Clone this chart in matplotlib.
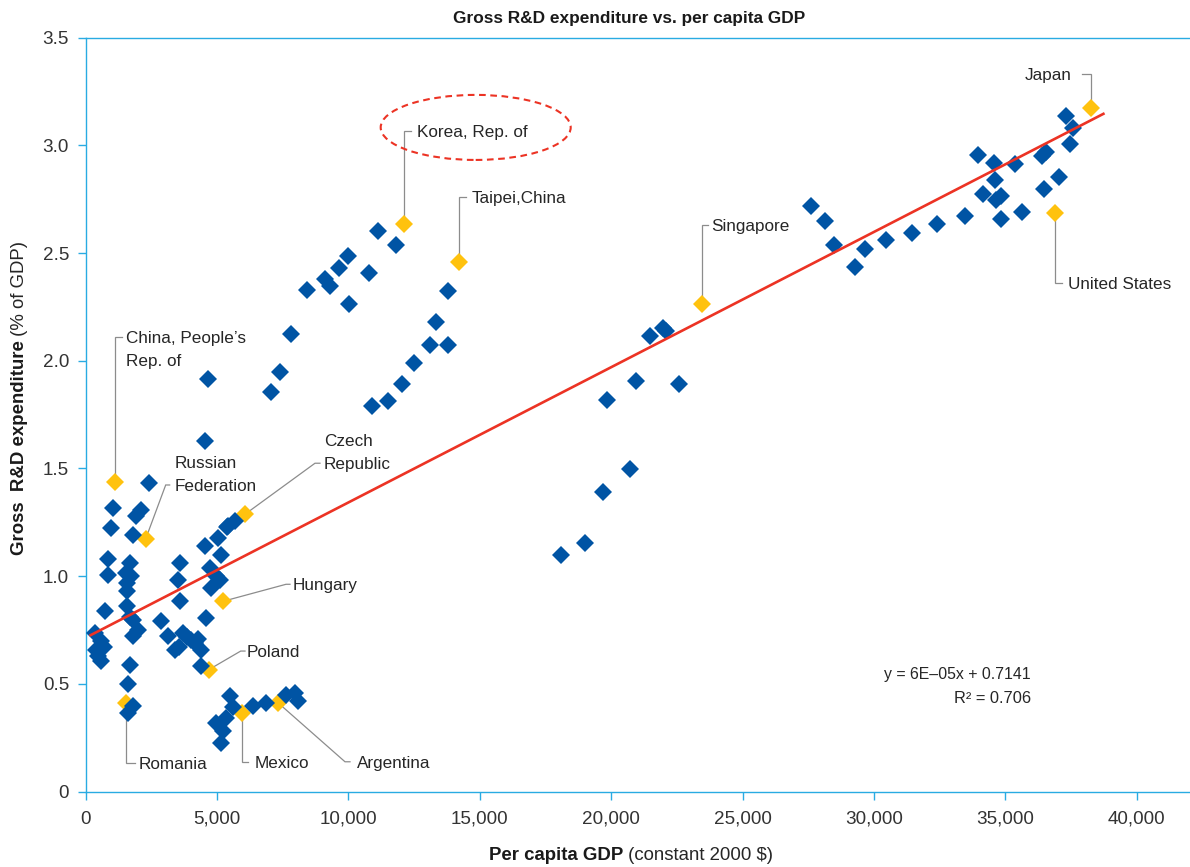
import matplotlib
matplotlib.use("Agg")
import matplotlib.pyplot as plt
from matplotlib.patches import Ellipse
from matplotlib.ticker import FixedLocator, FuncFormatter

# ---------------------------------------------------------------------------
# Data: per capita GDP (constant 2000 $) and gross R&D expenditure (% of GDP)
# ---------------------------------------------------------------------------
gdp_other = [
    342, 597, 407, 597, 700, 480, 723, 850, 850, 1040, 977, 2410, 2120, 1930,
    1800, 1674, 1548, 1560, 1560, 1560, 1720, 1800, 1990, 1800, 1680, 1674,
    1610, 1800, 1610,
    2880, 3133, 3387, 3550, 3703, 3850, 4000, 4150, 4274, 4400, 4400, 3577,
    3513, 3577, 4566, 4528, 5035, 5163, 4718, 4970, 5100, 4780, 5415, 5670,
    5360, 4528, 4640,
    5480, 4970, 5226, 5163, 5350, 5615, 6366, 6876, 7633, 7953, 8080,
    11123, 11820, 9981, 9640, 10780, 9094, 9285, 8420, 10020, 7826, 7382, 7040,
    13790, 13345, 13090, 13790, 12490, 12050, 11500, 10890,
    21970, 22100, 21460, 20955, 22565, 19840, 20725, 19685, 19014, 18100,
    27614, 28120, 28463, 29262, 29642, 30441, 31456, 32394, 33448, 33955,
    34563, 35350, 34600, 34144, 34840, 34650, 34840, 35640, 36400, 36550,
    37443, 37036, 36454, 37317, 37570,
]
rd_other = [
    0.738, 0.698, 0.659, 0.605, 0.670, 0.630, 0.837, 1.080, 1.007, 1.317,
    1.224, 1.433, 1.309, 1.278, 1.193, 1.062, 1.015, 0.969, 0.930, 0.860,
    1.000, 0.798, 0.752, 0.721, 0.810, 0.585, 0.497, 0.396, 0.365,
    0.790, 0.721, 0.659, 0.670, 0.737, 0.715, 0.705, 0.690, 0.706, 0.659,
    0.582, 1.062, 0.984, 0.883, 0.806, 1.139, 1.178, 1.100, 1.038, 1.000,
    0.984, 0.945, 1.232, 1.255, 1.230, 1.627, 1.913,
    0.442, 0.319, 0.280, 0.226, 0.342, 0.394, 0.396, 0.412, 0.450, 0.458,
    0.419,
    2.601, 2.539, 2.485, 2.430, 2.405, 2.377, 2.346, 2.330, 2.263, 2.126,
    1.948, 1.854,
    2.323, 2.179, 2.071, 2.071, 1.990, 1.890, 1.812, 1.789,
    2.153, 2.137, 2.114, 1.908, 1.894, 1.817, 1.498, 1.391, 1.155, 1.097,
    2.720, 2.648, 2.539, 2.434, 2.519, 2.560, 2.594, 2.635, 2.674, 2.953,
    2.916, 2.911, 2.838, 2.776, 2.764, 2.748, 2.658, 2.690, 2.950, 2.970,
    3.004, 2.852, 2.795, 3.135, 3.080,
]

highlight_names = [
    "Japan", "United States", "Korea", "Taipei", "Singapore", "China",
    "Russia", "Czech", "Hungary", "Poland", "Romania", "Mexico", "Argentina",
]
gdp_highlight = [38250, 36885, 12110, 14216, 23440, 1115, 2283, 6050, 5226,
                 4690, 1548, 5958, 7318]
rd_highlight = [3.172, 2.687, 2.635, 2.457, 2.263, 1.438, 1.173, 1.286, 0.883,
                0.566, 0.412, 0.365, 0.412]

# Linear trend line
trend_slope = 6.28e-5
trend_intercept = 0.7141
trend_r2 = 0.706

x_ticks = [0, 5000, 10000, 15000, 20000, 25000, 30000, 35000, 40000]
y_ticks = [0, 0.5, 1.0, 1.5, 2.0, 2.5, 3.0, 3.5]

# ---------------------------------------------------------------------------
# Styling
# ---------------------------------------------------------------------------
BLUE = "#0054a4"
YELLOW = "#ffc20e"
RED = "#ec3324"
AXIS = "#29abe2"
LEADER = "#8c8c8c"
TEXT = "#262626"
FONT = ["Liberation Sans", "DejaVu Sans"]
plt.rcParams["font.family"] = FONT

W, H = 1190, 867
fig = plt.figure(figsize=(W / 100, H / 100), dpi=100)
ax = fig.add_axes([85.7 / W, 75.5 / H, 42000 * 0.02628 / W, 3.5 * 215.4 / H])
ax.set_xlim(0, 42000)
ax.set_ylim(0, 3.5)

for side in ("left", "top", "bottom"):
    ax.spines[side].set_color(AXIS)
    ax.spines[side].set_linewidth(1.0)
ax.spines["right"].set_visible(False)

ax.xaxis.set_major_locator(FixedLocator(x_ticks))
ax.yaxis.set_major_locator(FixedLocator(y_ticks))
ax.xaxis.set_major_formatter(FuncFormatter(lambda v, p: f"{int(v):,}"))
ax.yaxis.set_major_formatter(
    FuncFormatter(lambda v, p: "0" if v == 0 else f"{v:.1f}"))
ax.tick_params(axis="both", direction="out", length=6, width=1.0,
               color=AXIS, labelcolor="#333333", labelsize=13.6, pad=6)
ax.tick_params(axis="x", pad=8)

# Callouts: text lines, text anchor, alignment, leader y, elbow x, hook x
LINE_STEP = 0.108
callouts = {
    "Japan": (["Japan"], 37530, 3.331, "right", 3.331, None, 37910),
    "United States": (["United States"], 37380, 2.362, "left", 2.362, None, 37140),
    "Korea": (["Korea, Rep. of"], 12606, 3.066, "left", 3.066, None, 12380),
    "Taipei": (["Taipei,China"], 14688, 2.761, "left", 2.761, None, 14471),
    "Singapore": (["Singapore"], 23794, 2.630, "left", 2.630, None, 23680),
    "China": (["China, People\u2019s", "Rep. of"], 1533, 2.110, "left", 2.110, None, 1381),
    "Russia": (["Russian", "Federation"], 3398, 1.531, "left", 1.423, 3044, 3195),
    "Czech": (["Czech", "Republic"], 9068, 1.632, "left", 1.524, 8725, 8915),
    "Hungary": (["Hungary"], 7889, 0.962, "left", 0.962, 7622, 7774),
    "Poland": (["Poland"], 6126, 0.652, "left", 0.652, 5898, 6062),
    "Romania": (["Romania"], 2002, 0.134, "left", 0.134, None, 1876),
    "Mexico": (["Mexico"], 6442, 0.138, "left", 0.138, None, 6187),
    "Argentina": (["Argentina"], 10312, 0.138, "left", 0.138, 9867, 10057),
}

for name, gx, ry in zip(highlight_names, gdp_highlight, rd_highlight):
    lines, tx, ty, ha, ly, ex, hx = callouts[name]
    ex = gx if ex is None else ex
    ax.plot([gx, ex, hx], [ry, ly, ly], color=LEADER, lw=0.9, zorder=1,
            solid_joinstyle="miter")
    for i, line in enumerate(lines):
        ax.text(tx, ty - i * LINE_STEP, line, ha=ha, va="center_baseline",
                fontsize=12.3, color=TEXT, zorder=5)

# Markers
ax.plot(gdp_highlight, rd_highlight, ls="none", marker="D", ms=8.7, mew=0,
        color=YELLOW, zorder=2)
ax.plot(gdp_other, rd_other, ls="none", marker="D", ms=8.7, mew=0,
        color=BLUE, zorder=3)

# Trend line across the data range
all_gdp = gdp_other + gdp_highlight
tx0, tx1 = min(all_gdp) - 200, max(all_gdp) + 520
ax.plot([tx0, tx1],
        [trend_intercept + trend_slope * tx0, trend_intercept + trend_slope * tx1],
        color=RED, lw=1.9, zorder=4, solid_capstyle="butt")

slope_txt = f"{trend_slope:.0E}".replace("-", "\u2013")
ax.text(35970, 0.549, f"y = {slope_txt}x + {trend_intercept:.4f}", ha="right",
        va="center_baseline", fontsize=11.4, color=TEXT)
ax.text(35970, 0.440, f"R\u00b2 = {trend_r2:.3f}", ha="right",
        va="center_baseline", fontsize=11.8, color=TEXT)

# Dashed ring around the Korea callout
ax.add_patch(Ellipse((14840, 3.083), 7230, 0.302, fill=False, edgecolor=RED,
                     lw=1.5, linestyle=(0, (3.2, 2.2)), zorder=5))

# Title
fig.text(629 / W, (H - 16.7) / H, "Gross R&D expenditure vs. per capita GDP",
         ha="center", va="center_baseline", fontsize=12.4, fontweight="bold",
         color="#1a1a1a")

# Axis titles made of a bold part followed by a regular part
fig.canvas.draw()
renderer = fig.canvas.get_renderer()

xb = fig.text(0, 0, "Per capita GDP", fontsize=13.4, fontweight="bold",
              color="#1a1a1a", ha="left", va="center_baseline")
xn = fig.text(0, 0, " (constant 2000 $)", fontsize=13.4, color=TEXT,
              ha="left", va="center_baseline")
wb = xb.get_window_extent(renderer).width
wn = xn.get_window_extent(renderer).width
x0 = 631 - (wb + wn) / 2
xb.set_position((x0 / W, 14 / H))
xn.set_position(((x0 + wb) / W, 14 / H))

yb = fig.text(0, 0, "Gross  R&D expenditure", fontsize=13.4, fontweight="bold",
              color="#1a1a1a", rotation=90, ha="center", va="bottom")
yn = fig.text(0, 0, " (% of GDP)", fontsize=13.4, color=TEXT, rotation=90,
              ha="center", va="bottom")
hb = yb.get_window_extent(renderer).height
hn = yn.get_window_extent(renderer).height
y0 = (H - 398) - (hb + hn) / 2
yb.set_position((20 / W, y0 / H))
yn.set_position((20 / W, (y0 + hb) / H))

fig.savefig("out.png", dpi=100)
